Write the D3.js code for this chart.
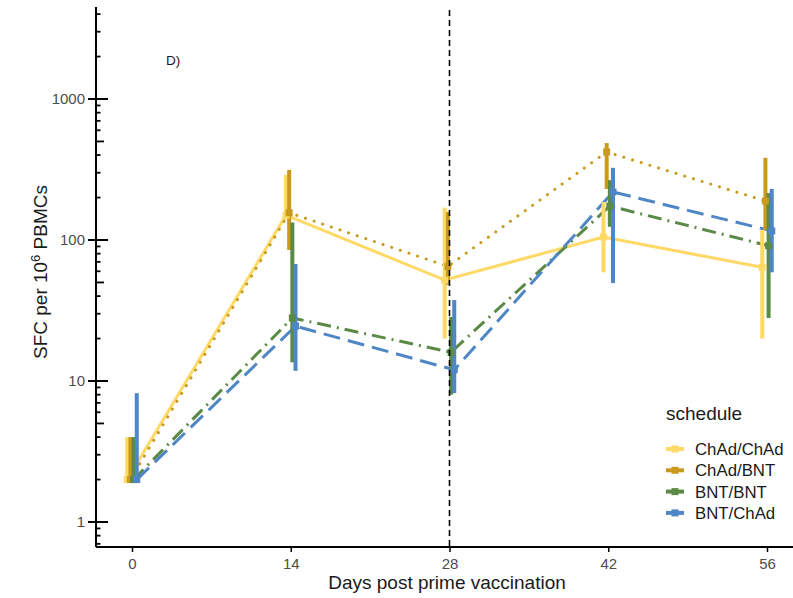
<!DOCTYPE html>
<html>
<head>
<meta charset="utf-8">
<script src="https://cdn.jsdelivr.net/npm/d3@7"></script>
<style>
  body { margin: 0; background: #fff; }
  svg { font-family: "Liberation Sans", Arial, sans-serif; }
</style>
</head>
<body>
<div id="chart"></div>
<script>
// data
const days = [0, 14, 28, 42, 56];
const schedules = ["ChAd/ChAd", "ChAd/BNT", "BNT/BNT", "BNT/ChAd"];
const colors = ["#FFD966", "#C99A1E", "#5A8A45", "#4F86C6"];
const dashes = [null, "0.1 9", "14 6 2 6", "17 8"];

const chadChadMid = [2, 150, 52, 105, 64];
const chadChadLo  = [2, 140, 20, 59, 20];
const chadChadHi  = [4, 290, 169, 186, 118];

const chadBntMid = [2, 156, 65, 421, 189];
const chadBntLo  = [2, 85, 48, 230, 118];
const chadBntHi  = [4, 314, 158, 487, 383];

const bntBntMid = [2, 28, 16, 174, 91];
const bntBntLo  = [2, 13.6, 8, 124, 28];
const bntBntHi  = [4, 133, 28.5, 266, 215];

const bntChadMid = [2, 24.5, 12, 219, 116];
const bntChadLo  = [2, 11.8, 8.2, 49.5, 59];
const bntChadHi  = [8.2, 67.6, 37.5, 325, 230];

const yMajor = [1, 10, 100, 1000];

const series = [
  {mid: chadChadMid, lo: chadChadLo, hi: chadChadHi},
  {mid: chadBntMid, lo: chadBntLo, hi: chadBntHi},
  {mid: bntBntMid, lo: bntBntLo, hi: bntBntHi},
  {mid: bntChadMid, lo: bntChadLo, hi: bntChadHi}
].map((s, i) => ({
  name: schedules[i], color: colors[i], dash: dashes[i], idx: i,
  pts: days.map((d, j) => ({day: d, mid: s.mid[j], lo: s.lo[j], hi: s.hi[j]}))
}));

const W = 793, H = 598;
const svg = d3.select("#chart").append("svg")
  .attr("width", W).attr("height", H);

// scales
const x = d3.scaleLinear().domain([0, 56]).range([132, 767]);
const y = d3.scaleLog().domain([1, 1000]).range([522, 99]);
const dodge = 0.28; // days between neighbouring groups
const xd = (d, i) => x(d + (i - 1.5) * dodge);

const plotLeft = 96, plotRight = 793, plotTop = 7, plotBottom = 547;

// lines
const line = d3.line().x(d => d.x).y(d => y(d.mid));
series.forEach(s => {
  svg.append("path")
    .datum(s.pts.map(p => ({x: xd(p.day, s.idx), mid: p.mid})))
    .attr("d", line)
    .attr("fill", "none")
    .attr("stroke", s.color)
    .attr("stroke-width", 3)
    .attr("stroke-linecap", s.dash === "0.1 9" ? "round" : "butt")
    .attr("stroke-dasharray", s.dash);
});

// error bars
series.forEach(s => {
  svg.append("g").selectAll("line")
    .data(s.pts)
    .join("line")
    .attr("x1", p => xd(p.day, s.idx))
    .attr("x2", p => xd(p.day, s.idx))
    .attr("y1", p => y(p.lo))
    .attr("y2", p => y(p.hi))
    .attr("stroke", s.color)
    .attr("stroke-width", 4);
});

// points
series.forEach(s => {
  svg.append("g").selectAll("rect")
    .data(s.pts)
    .join("rect")
    .attr("x", p => xd(p.day, s.idx) - 3.5)
    .attr("y", p => y(p.mid) - 3.5)
    .attr("width", 7)
    .attr("height", 7)
    .attr("fill", s.color);
});

// dashed line at day 28
svg.append("line")
  .attr("x1", x(28)).attr("x2", x(28))
  .attr("y1", 10).attr("y2", plotBottom)
  .attr("stroke", "black")
  .attr("stroke-width", 1.6)
  .attr("stroke-dasharray", "6 4");

// y axis
svg.append("line")
  .attr("x1", plotLeft).attr("x2", plotLeft)
  .attr("y1", plotTop).attr("y2", plotBottom)
  .attr("stroke", "black").attr("stroke-width", 2);

const minorTicks = [];
[0.1, 1, 10, 100, 1000].forEach(dec => {
  for (let k = 2; k <= 9; k++) {
    const v = dec * k;
    const py = y(v);
    if (py > plotTop + 3 && py < plotBottom - 2) minorTicks.push(v);
  }
});
svg.append("g").selectAll("line")
  .data(minorTicks)
  .join("line")
  .attr("x1", plotLeft)
  .attr("x2", v => Math.round(v / Math.pow(10, Math.floor(Math.log10(v) + 1e-9))) === 5 ? plotLeft + 8 : plotLeft + 4.5)
  .attr("y1", v => y(v)).attr("y2", v => y(v))
  .attr("stroke", "black").attr("stroke-width", 1.8);

svg.append("g").selectAll("line")
  .data(yMajor)
  .join("line")
  .attr("x1", plotLeft - 8).attr("x2", plotLeft + 12)
  .attr("y1", v => y(v)).attr("y2", v => y(v))
  .attr("stroke", "black").attr("stroke-width", 2);

svg.append("g").selectAll("text")
  .data(yMajor)
  .join("text")
  .attr("x", plotLeft - 11)
  .attr("y", v => y(v) + 5)
  .attr("text-anchor", "end")
  .attr("font-size", 15)
  .attr("fill", "#4d4d4d")
  .text(v => v);

// x axis
svg.append("line")
  .attr("x1", plotLeft).attr("x2", plotRight)
  .attr("y1", plotBottom).attr("y2", plotBottom)
  .attr("stroke", "black").attr("stroke-width", 2);

const xAxis = svg.append("g")
  .attr("transform", `translate(0,${plotBottom})`)
  .call(d3.axisBottom(x).tickValues(days).tickSize(5).tickPadding(6));
xAxis.select(".domain").remove();
xAxis.selectAll(".tick line").attr("stroke", "black").attr("stroke-width", 1.5);
xAxis.selectAll(".tick text")
  .attr("font-size", 15)
  .attr("fill", "#4d4d4d")
  .style("font-family", "Liberation Sans, Arial, sans-serif");

// axis titles
svg.append("text")
  .attr("x", 447).attr("y", 589)
  .attr("text-anchor", "middle")
  .attr("font-size", 19)
  .attr("fill", "#1a1a1a")
  .text("Days post prime vaccination");

const yTitle = svg.append("text")
  .attr("transform", "translate(47,272) rotate(-90)")
  .attr("text-anchor", "middle")
  .attr("font-size", 19)
  .attr("fill", "#1a1a1a");
yTitle.append("tspan").text("SFC per 10");
yTitle.append("tspan").attr("font-size", 13).attr("dy", -7).text("6");
yTitle.append("tspan").attr("dy", 7).text(" PBMCs");

// panel tag
svg.append("text")
  .attr("x", 166).attr("y", 65)
  .attr("font-size", 13.5)
  .attr("fill", "#1a1a1a")
  .text("D)");

// legend
const legend = svg.append("g").attr("transform", "translate(666,0)");
legend.append("text")
  .attr("x", 0).attr("y", 420)
  .attr("font-size", 19)
  .attr("fill", "#1a1a1a")
  .text("schedule");

const entry = legend.selectAll("g.entry")
  .data(series)
  .join("g")
  .attr("class", "entry")
  .attr("transform", (s, i) => `translate(0,${449 + i * 21.3})`);
entry.append("line")
  .attr("x1", 0).attr("x2", 18)
  .attr("stroke", s => s.color)
  .attr("stroke-width", 4);
entry.append("rect")
  .attr("x", 5.5).attr("y", -3.5)
  .attr("width", 7).attr("height", 7)
  .attr("fill", s => s.color);
entry.append("text")
  .attr("x", 29).attr("y", 6)
  .attr("font-size", 16.8)
  .attr("fill", "#1a1a1a")
  .text(s => s.name);
</script>
</body>
</html>
